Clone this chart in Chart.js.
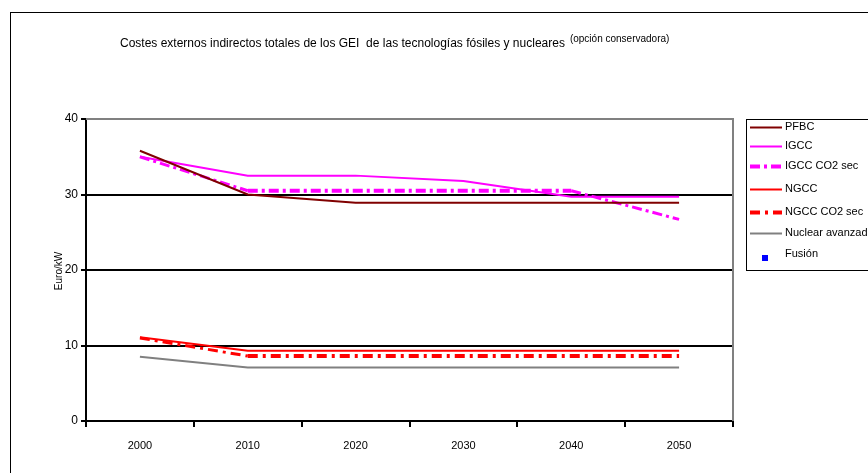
<!DOCTYPE html>
<html>
<head>
<meta charset="utf-8">
<script src="https://cdn.jsdelivr.net/npm/chart.js@4/dist/chart.umd.min.js"></script>
<style>
    html, body { margin: 0; padding: 0; background: #fff; overflow: hidden; }
    #wrap { position: relative; width: 868px; height: 473px; }
</style>
</head>
<body>
<div id="wrap"><canvas id="chart" width="868" height="473"></canvas></div>
<script>
// --- Data ---
const years = ['2000', '2010', '2020', '2030', '2040', '2050'];
const pfbcValues = [35.8, 30.0, 28.9, 28.9, 28.9, 28.9];
const igccValues = [35.0, 32.5, 32.5, 31.8, 29.7, 29.7];
const igccCo2Values = [35.0, 30.5, 30.5, 30.5, 30.5, 26.7];
const ngccValues = [11.1, 9.3, 9.3, 9.3, 9.3, 9.3];
const ngccCo2Values = [11.0, 8.6, 8.6, 8.6, 8.6, 8.6];
const nuclearValues = [8.5, 7.1, 7.1, 7.1, 7.1, 7.1];
const fusionValues = [null, null, null, null, null, null];
const yTicks = [0, 10, 20, 30, 40];

const titleText = 'Costes externos indirectos totales de los GEI  de las tecnologías fósiles y nucleares';
const titleSup = '(opción conservadora)';
const yAxisTitle = 'Euro/kW';

const FONT = '"Liberation Sans", Arial, sans-serif';

// --- Plugin: frame, title, axis title, plot border, legend ---
const decorations = {
    id: 'decorations',
    afterDraw(chart) {
        const { ctx, chartArea } = chart;
        ctx.save();

        // outer frame
        ctx.strokeStyle = '#000';
        ctx.lineWidth = 1;
        ctx.strokeRect(10.5, 12.5, 900, 500);

        // title
        ctx.fillStyle = '#000';
        ctx.textBaseline = 'alphabetic';
        ctx.textAlign = 'left';
        ctx.font = '12px ' + FONT;
        ctx.fillText(titleText, 120, 47);
        const w = ctx.measureText(titleText).width;
        ctx.font = '10px ' + FONT;
        ctx.fillText(titleSup, 120 + w + 5, 42);

        // y axis title
        ctx.save();
        ctx.translate(59, 271);
        ctx.rotate(-Math.PI / 2);
        ctx.textAlign = 'center';
        ctx.textBaseline = 'middle';
        ctx.font = '10px ' + FONT;
        ctx.fillText(yAxisTitle, 0, 0);
        ctx.restore();

        // plot border top/right
        ctx.strokeStyle = '#808080';
        ctx.lineWidth = 2;
        ctx.beginPath();
        ctx.moveTo(chartArea.left, chartArea.top);
        ctx.lineTo(chartArea.right, chartArea.top);
        ctx.lineTo(chartArea.right, chartArea.bottom);
        ctx.stroke();

        // legend
        const lx = 746, ly = 119;
        ctx.strokeStyle = '#000';
        ctx.lineWidth = 1;
        ctx.strokeRect(lx + 0.5, ly + 0.5, 140, 151);
        const rows = [127, 146, 166, 189, 212, 233, 254];
        ctx.font = '11px ' + FONT;
        ctx.textBaseline = 'middle';
        ctx.textAlign = 'left';
        chart.data.datasets.forEach((ds, i) => {
            const y = rows[i];
            if (ds.legendSquare) {
                ctx.fillStyle = ds.backgroundColor;
                ctx.fillRect(762, y + 1, 6, 6);
            } else {
                ctx.strokeStyle = ds.borderColor;
                ctx.lineWidth = ds.borderWidth;
                ctx.setLineDash(ds.borderDash || []);
                ctx.beginPath();
                ctx.moveTo(750, y + 0.5);
                ctx.lineTo(782, y + 0.5);
                ctx.stroke();
                ctx.setLineDash([]);
            }
            ctx.fillStyle = '#000';
            ctx.fillText(ds.label, 785, y);
        });

        ctx.restore();
    }
};

const lineDs = (label, data, color, width, dash) => ({
    label: label,
    data: data,
    borderColor: color,
    backgroundColor: color,
    borderWidth: width,
    borderDash: dash || [],
    pointRadius: 0,
    tension: 0,
    fill: false,
});

// thick dashed lines look thinner where they slope
const slopedThinner = {
    borderWidth: ctx => (ctx.p0.parsed.y !== ctx.p1.parsed.y ? 3 : undefined),
};

const datasets = [
    lineDs('PFBC', pfbcValues, '#800000', 2),
    lineDs('IGCC', igccValues, '#FF00FF', 2),
    Object.assign(lineDs('IGCC CO2 sec', igccCo2Values, '#FF00FF', 4, [10, 4, 3, 4]), { segment: slopedThinner }),
    lineDs('NGCC', ngccValues, '#FF0000', 2),
    Object.assign(lineDs('NGCC CO2 sec', ngccCo2Values, '#FF0000', 4, [10, 5, 3, 5]), { segment: slopedThinner }),
    lineDs('Nuclear avanzada', nuclearValues, '#808080', 2),
    Object.assign(lineDs('Fusión', fusionValues, '#0000FF', 0), {
        legendSquare: true,
        pointStyle: 'rect',
        pointRadius: 3,
        showLine: false,
    }),
];

datasets.forEach((ds, i) => { ds.order = i; });

new Chart(document.getElementById('chart'), {
    type: 'line',
    data: { labels: years, datasets: datasets },
    options: {
        responsive: false,
        animation: false,
        layout: { padding: { left: 0, top: 119, right: 868 - 733, bottom: 0 } },
        plugins: {
            legend: { display: false },
            tooltip: { enabled: false },
            title: { display: false },
        },
        scales: {
            x: {
                type: 'category',
                offset: true,
                grid: {
                    offset: true,
                    drawOnChartArea: false,
                    drawTicks: true,
                    tickLength: 6,
                    color: '#000',
                    lineWidth: 2,
                },
                border: { color: '#000', width: 2 },
                ticks: {
                    color: '#000',
                    font: { family: FONT, size: 11 },
                    padding: 12,
                    maxRotation: 0,
                },
                afterFit(scale) { scale.height = 473 - 421; },
            },
            y: {
                min: 0,
                max: 40,
                afterBuildTicks(scale) { scale.ticks = yTicks.map(v => ({ value: v })); },
                grid: {
                    color: ctx => (ctx.tick && ctx.tick.value === 40 ? '#808080' : '#000'),
                    lineWidth: 2,
                    tickLength: 5,
                    tickColor: '#000',
                },
                border: { color: '#000', width: 2 },
                ticks: {
                    color: '#000',
                    font: { family: FONT, size: 12 },
                    padding: 3,
                },
                afterFit(scale) { scale.width = 86; },
            },
        },
    },
    plugins: [decorations],
});
</script>
</body>
</html>
